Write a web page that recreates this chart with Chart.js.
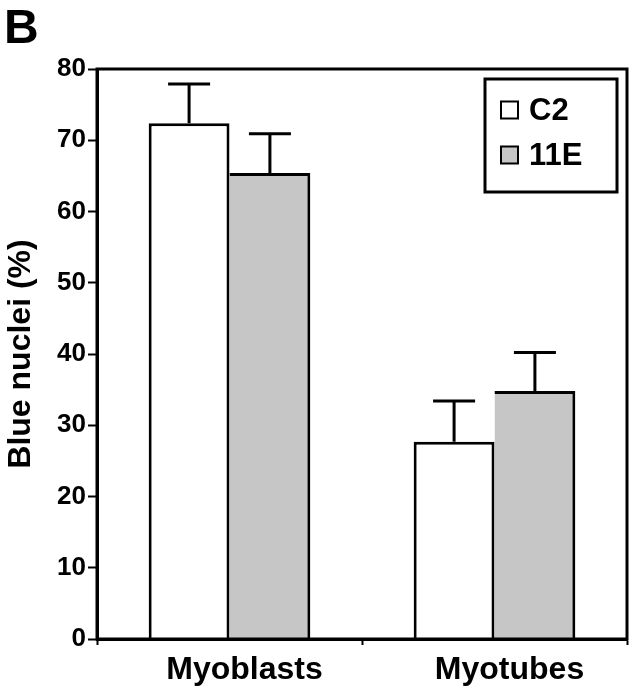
<!DOCTYPE html>
<html><head><meta charset="utf-8">
<script src="https://cdn.jsdelivr.net/npm/chart.js@4"></script>
<style>html,body{margin:0;padding:0;background:#fff}#wrap{width:632px;height:693px}</style>
</head><body><div id="wrap"><canvas id="c" width="632" height="693"></canvas></div>
<script>
const categories = ['Myoblasts', 'Myotubes'];
const seriesNames = ['C2', '11E'];
const c2Values = [72.4, 27.7];
const c2Errors = [5.5, 5.7];
const e11Values = [65.4, 34.8];
const e11Errors = [5.5, 5.4];
const yTicks = [0, 10, 20, 30, 40, 50, 60, 70, 80];
const panelLabel = 'B';
const yTitle = 'Blue nuclei (%)';

const FONT = "'Liberation Sans', Arial, Helvetica, sans-serif";

const errorBars = {
  id: 'errorBars',
  afterDatasetsDraw(chart) {
    const ctx = chart.ctx;
    const y = chart.scales.y;
    ctx.save();
    ctx.strokeStyle = '#000';
    ctx.lineWidth = 3;
    chart.data.datasets.forEach((ds, di) => {
      const meta = chart.getDatasetMeta(di);
      meta.data.forEach((bar, i) => {
        const top = y.getPixelForValue(ds.data[i]);
        const up = y.getPixelForValue(ds.data[i] + ds.errors[i]);
        const x = bar.x;
        ctx.beginPath();
        ctx.moveTo(x, top);
        ctx.lineTo(x, up);
        ctx.moveTo(x - 21, up);
        ctx.lineTo(x + 21, up);
        ctx.stroke();
      });
    });
    ctx.restore();
  },
  afterDraw(chart) {
    const ctx = chart.ctx;
    const a = chart.chartArea;
    ctx.save();
    ctx.strokeStyle = '#000';
    ctx.lineWidth = 3;
    ctx.strokeRect(a.left, a.top, a.right - a.left, a.bottom - a.top);
    const bx = a.right - 142, by = a.top + 10, bw = 132, bh = 113;
    ctx.fillStyle = '#fff';
    ctx.fillRect(bx, by, bw, bh);
    ctx.strokeRect(bx, by, bw, bh);
    ctx.font = 'bold 31px ' + FONT;
    ctx.textBaseline = 'middle';
    ctx.textAlign = 'left';
    chart.data.datasets.forEach((ds, di) => {
      const cy = by + 31 + di * 45;
      ctx.fillStyle = ds.backgroundColor;
      ctx.fillRect(bx + 16, cy - 8.5, 17, 17);
      ctx.lineWidth = 2;
      ctx.strokeRect(bx + 16, cy - 8.5, 17, 17);
      ctx.fillStyle = '#000';
      ctx.fillText(ds.label, bx + 44, cy + 1);
    });
    ctx.font = 'bold 48px ' + FONT;
    ctx.textBaseline = 'alphabetic';
    ctx.fillStyle = '#000';
    ctx.fillText(panelLabel, 4, 43);
    ctx.restore();
  }
};

new Chart(document.getElementById('c'), {
  type: 'bar',
  data: {
    labels: categories,
    datasets: [
      {
        label: seriesNames[0], data: c2Values, errors: c2Errors,
        backgroundColor: '#ffffff', borderColor: '#000',
        borderWidth: {top: 3, left: 3, right: 3, bottom: 0}, borderSkipped: false,
        categoryPercentage: 0.61, barPercentage: 1.0
      },
      {
        label: seriesNames[1], data: e11Values, errors: e11Errors,
        backgroundColor: '#c6c6c6', borderColor: '#000',
        borderWidth: {top: 3, left: 0, right: 3, bottom: 0}, borderSkipped: false,
        categoryPercentage: 0.61, barPercentage: 1.0
      }
    ]
  },
  options: {
    responsive: false,
    devicePixelRatio: 1,
    animation: false,
    layout: {padding: {top: 69, right: 5, left: 0, bottom: 0}},
    plugins: {legend: {display: false}, tooltip: {enabled: false}, title: {display: false}},
    scales: {
      y: {
        min: 0, max: 80,
        afterBuildTicks(s) { s.ticks = yTicks.map(v => ({value: v})); },
        afterFit(s) { s.width = 97; },
        ticks: {font: {family: FONT, size: 26, weight: 'bold'}, color: '#000', padding: 2},
        grid: {drawOnChartArea: false, drawTicks: true, tickLength: 9, tickWidth: 2, tickColor: '#000', color: '#000'},
        border: {display: true, color: '#000', width: 3},
        title: {display: true, text: yTitle, color: '#000', font: {family: FONT, size: 32, weight: 'bold'}, padding: {top: 2, bottom: 0}}
      },
      x: {
        afterFit(s) { s.height = 54; },
        ticks: {font: {family: FONT, size: 32, weight: 'bold'}, color: '#000', padding: 6, labelOffset: 15},
        grid: {drawOnChartArea: false, offset: true, tickLength: 6, tickWidth: 2, tickColor: '#000', color: '#000'},
        border: {display: true, color: '#000', width: 3}
      }
    }
  },
  plugins: [errorBars]
});
</script>
</body></html>
